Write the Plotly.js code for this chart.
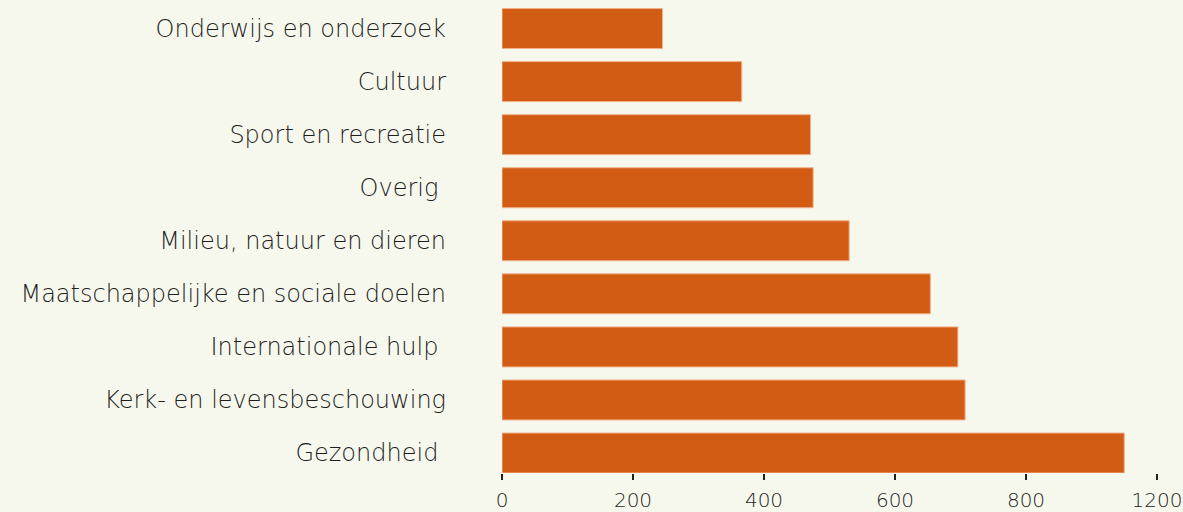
<!DOCTYPE html>
<html>
<head>
<meta charset="utf-8">
<script src="https://cdn.plot.ly/plotly-3.0.1.min.js"></script>
<style>
  html, body { margin: 0; padding: 0; background: #f6f8ed; }
  #chart { width: 1183px; height: 512px; }
</style>
</head>
<body>
<div id="chart"></div>
<script>
const categories = [
  "Onderwijs en onderzoek",
  "Cultuur",
  "Sport en recreatie",
  "Overig ",
  "Milieu, natuur en dieren",
  "Maatschappelijke en sociale doelen",
  "Internationale hulp ",
  "Kerk- en levensbeschouwing",
  "Gezondheid "
];
const values = [245, 366, 471, 475, 530, 654, 696, 707, 950];
const tickValues = [0, 200, 400, 600, 800, 1000];
const tickLabels = ["0", "200", "400", "600", "800", "1200"];

const trace = {
  type: "bar",
  orientation: "h",
  y: categories,
  x: values,
  marker: { color: "#d35c14", line: { color: "#f1b088", width: 1 } },
  hoverinfo: "x+y"
};

const layout = {
  width: 1183,
  height: 512,
  paper_bgcolor: "#f6f8ed",
  plot_bgcolor: "#f6f8ed",
  margin: { l: 502, r: 26, t: 2, b: 39 },
  bargap: 0.247,
  showlegend: false,
  font: { family: "'DejaVu Sans', sans-serif", color: "#1e1e1e" },
  xaxis: {
    range: [0, 1000],
    tickvals: tickValues,
    ticktext: tickLabels,
    ticks: "outside",
    ticklen: 6,
    tickwidth: 2,
    tickcolor: "#222222",
    showgrid: false,
    zeroline: false,
    showline: false,
    ticklabelstandoff: 3,
    tickfont: { size: 20, color: "#1e1e1e", family: "'DejaVu Sans', sans-serif", weight: 300 }
  },
  yaxis: {
    type: "category",
    range: [8.3765, -0.5],
    showgrid: false,
    zeroline: false,
    showline: false,
    ticks: "",
    ticklabelstandoff: 55,
    tickfont: { size: 24, color: "#1e1e1e", family: "'DejaVu Sans', sans-serif", weight: 300 }
  }
};

Plotly.newPlot("chart", [trace], layout, { displayModeBar: false, responsive: false });
</script>
</body>
</html>
